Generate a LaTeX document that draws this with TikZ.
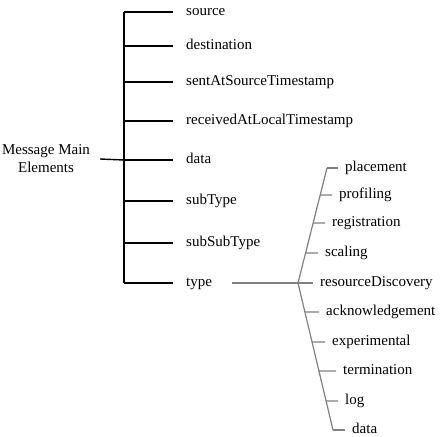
\documentclass[tikz,border=0pt]{standalone}
\usepackage{fontspec}
\setmainfont{Liberation Serif}
\begin{document}
\begin{tikzpicture}[x=1pt,y=-1pt,font=\fontsize{15}{18}\selectfont,
	lbl/.style={anchor=west,inner xsep=13pt,inner ysep=0pt,text height=10pt,text depth=3pt},
	sub/.style={anchor=west,inner xsep=7pt,inner ysep=0pt,text height=10pt,text depth=3pt},
	spine/.style={line width=1.4pt},
	twig/.style={line width=1.2pt,black!50}]
		\useasboundingbox (0,0) rectangle (443,436);
		\path
		+(46,159)  node[align=center,inner xsep=10pt,inner ysep=0pt]  (M) {Message Main\\Elements}
		+(124,160) coordinate (J)
		+(173,12)  node[lbl] (src) {source}
		+(173,46)  node[lbl] (dst) {destination}
		+(173,82)  node[lbl] (sent) {sentAtSourceTimestamp}
		+(173,121) node[lbl] (recv) {receivedAtLocalTimestamp}
		+(173,160) node[lbl] (dat) {data}
		+(173,201) node[lbl] (st) {subType}
		+(173,243) node[lbl] (sst) {subSubType}
		+(173,283) node[lbl] (type) {type}
		+(298,283) coordinate (hub)
		+(327,168) coordinate (tT)
		+(333,430) coordinate (tB)
		+(338,168) node[sub] (pl) {placement}
		+(332,195) node[sub] (pr) {profiling}
		+(325,223) node[sub] (reg) {registration}
		+(318,253) node[sub] (sc) {scaling}
		+(313,283) node[sub] (rd) {resourceDiscovery}
		+(319,312) node[sub] (ack) {acknowledgement}
		+(325,342) node[sub] (exp) {experimental}
		+(336,371) node[sub] (ter) {termination}
		+(338,401) node[sub] (log) {log}
		+(345,430) node[sub] (tdat) {data}
		;
		% main elements
		\draw[spine] (M.east)--(J);
		\draw[spine] (J|-src.west)--(J|-type.west);
		\draw[spine] (src.west)--(J|-src.west);
		\draw[spine] (dst.west)--(J|-dst.west);
		\draw[spine] (sent.west)--(J|-sent.west);
		\draw[spine] (recv.west)--(J|-recv.west);
		\draw[spine] (dat.west)--(J);
		\draw[spine] (st.west)--(J|-st.west);
		\draw[spine] (sst.west)--(J|-sst.west);
		\draw[spine] (type.west)--(J|-type.west);
		% type values
		\draw[twig] ([xshift=7pt]type.east)--(hub);
		\draw[twig] (tT)--(hub)--(tB);
		\draw[twig] (tT)--(pl.west);
		\draw[twig] (intersection of hub--tT and pr.west--pr.east)--(pr.west);
		\draw[twig] (intersection of hub--tT and reg.west--reg.east)--(reg.west);
		\draw[twig] (intersection of hub--tT and sc.west--sc.east)--(sc.west);
		\draw[twig] (hub)--(rd.west);
		\draw[twig] (intersection of hub--tB and ack.west--ack.east)--(ack.west);
		\draw[twig] (intersection of hub--tB and exp.west--exp.east)--(exp.west);
		\draw[twig] (intersection of hub--tB and ter.west--ter.east)--(ter.west);
		\draw[twig] (intersection of hub--tB and log.west--log.east)--(log.west);
		\draw[twig] (tB)--(tdat.west);
		\end{tikzpicture}
\end{document}
